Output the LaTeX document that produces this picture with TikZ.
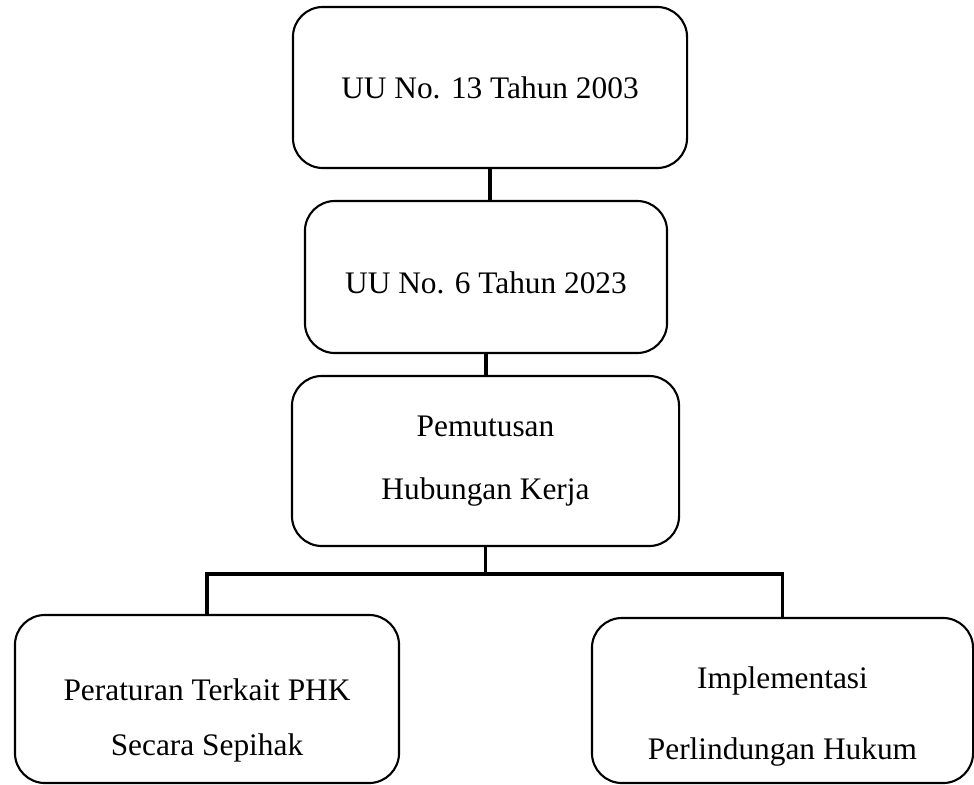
\documentclass[tikz,border=0pt]{standalone}
\usepackage{fontspec}
\setmainfont{Liberation Serif}

\begin{document}
\begin{tikzpicture}[
  x=0.025cm,y=-0.025cm,
  box/.style={draw,line width=1.5pt,rounded corners=.75cm,inner sep=0pt,align=center,font=\fontsize{22.3}{26.8}\selectfont},
  conn/.style={line width=2.4pt}
]
\useasboundingbox (0,0) rectangle (974,784);
\node[box,minimum width=9.85cm,minimum height=4.025cm] (uu13) at (490,87.5) {UU No. 13 Tahun 2003};
\node[box,minimum width=9.05cm,minimum height=3.8cm,text height=23.7pt] (uu6) at (486,277) {UU No. 6 Tahun 2023};
\node[box,minimum width=9.675cm,minimum height=4.25cm] (phk) at (485.5,461) {Pemutusan\\[18pt]Hubungan Kerja};
\node[box,minimum width=9.6cm,minimum height=4.2cm,text height=85pt] (atur) at (207,699) {Peraturan Terkait PHK\\[12.3pt]Secara Sepihak};
\node[box,minimum width=9.525cm,minimum height=4.125cm,text height=89pt] (lindung) at (782.5,700.5) {Implementasi\\[23.7pt]Perlindungan Hukum};
\coordinate (bar) at (488,574);
\draw[conn] (uu13.south) -- (uu13.south |- uu6.north);
\draw[conn] (uu6.south) -- (uu6.south |- phk.north);
\draw[conn] (phk.south) -- (phk.south |- bar);
\draw[conn] (atur.north) |- (bar) -| (lindung.north);
\end{tikzpicture}
\end{document}
